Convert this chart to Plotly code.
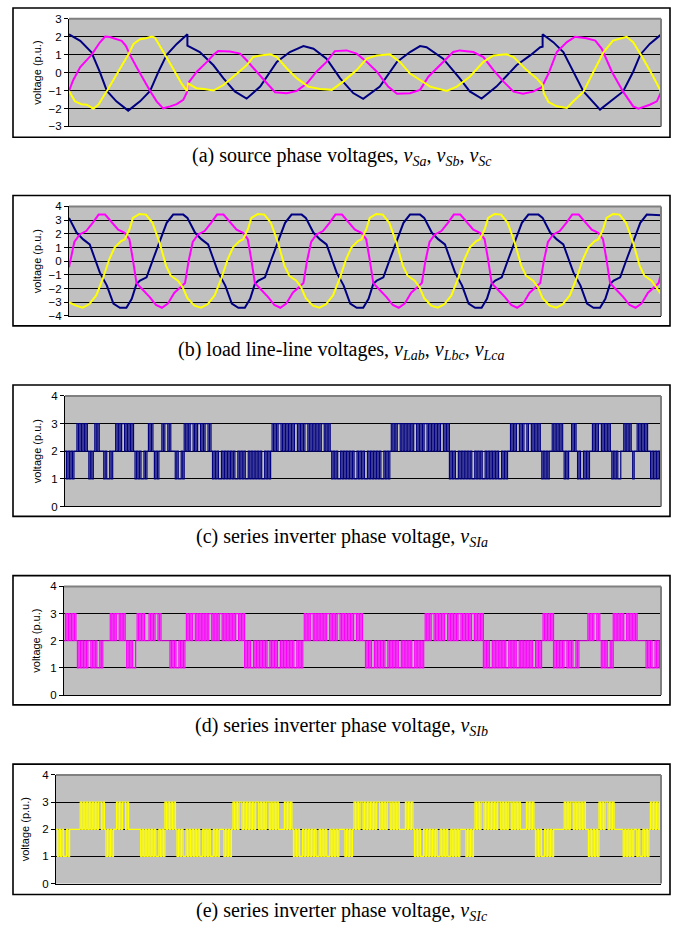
import plotly.graph_objects as go

# ------------------------------------------------------------------ data
# time axis: 0..100 (five fundamental cycles); values in p.u.
# (a) source phase voltages (sag between t=20 and t=80)
SRC_A = [(0,2.14),(1.9,1.77),(3.8,1.13),(5.2,0.04),(6.4,-1.02),(8.0,-1.6),(10.0,-2.12),(12.0,-1.6),
         (13.7,-1.02),(15.1,0.04),(16.5,0.99),(18.2,1.6),(20.0,2.14),(20.0,1.5),(22.1,1.15),(24.4,0.41),
         (26.1,-0.32),(28.0,-1.05),(30.0,-1.45),(32.3,-0.78),(35.1,0.6),(37.3,1.15),(39.6,1.48),(41.3,1.33),
         (43.5,0.78),(45.8,-0.32),(48.0,-1.14),(49.7,-1.46),(52.5,-0.78),(55.4,0.6),(57.6,1.15),(59.3,1.48),
         (60.4,1.42),(63.2,0.78),(66.0,-0.32),(67.7,-1.05),(69.7,-1.45),(72.2,-0.78),(75.6,0.41),(77.9,0.96),
         (79.6,1.42),(80.0,1.45),(80.0,2.14),(81.8,1.7),(83.5,1.15),(85.2,0.05),(86.9,-1.05),(89.7,-2.06),
         (91.9,-1.5),(93.6,-1.05),(95.3,0.05),(96.5,1.0),(98.1,1.6),(100,2.12)]
SRC_B = [(0,-1.02),(0.7,-0.42),(1.9,0.31),(3.8,0.99),(5.2,1.68),(6.1,2.01),(6.9,1.99),(8.0,1.86),(8.9,1.77),
         (9.6,1.5),(10.3,0.99),(11.4,0.31),(12.6,-0.42),(13.7,-1.02),(14.8,-1.6),(15.9,-1.99),(17.1,-1.88),
         (18.2,-1.76),(19.3,-1.52),(19.9,-1.1),(20.1,-0.6),(21.6,0.05),(23.3,0.6),(24.4,1.0),(25.2,1.2),
         (27.2,1.18),(28.9,1.06),(30.0,0.69),(31.7,0.05),(33.4,-0.6),(34.8,-1.09),(36.8,-1.15),(38.5,-1.02),
         (40.2,-0.6),(41.8,0.05),(43.5,0.6),(44.9,1.2),(46.9,1.24),(48.6,1.06),(50.3,0.6),(52.0,0.05),
         (53.9,-0.78),(55.4,-1.18),(57.6,-1.15),(59.3,-0.96),(60.7,-0.23),(62.7,0.41),(64.9,1.15),(66.0,1.24),
         (68.3,1.15),(70.0,0.87),(71.7,0.14),(73.4,-0.5),(75.1,-1.06),(76.7,-1.18),(78.4,-1.06),(79.8,-0.83),
         (80.0,-0.72),(81.0,-0.05),(82.4,1.15),(84.1,1.7),(85.5,2.0),(87.4,1.92),(88.9,1.79),(90.0,1.33),
         (91.7,0.05),(93.6,-1.06),(95.3,-1.88),(96.2,-2.01),(98.1,-1.79),(99.3,-1.6),(100,-1.09)]
SRC_C = [(0,-1.02),(1.0,-1.6),(2.1,-1.76),(3.0,-1.79),(4.1,-2.01),(4.95,-1.79),(6.4,-1.02),(8.0,-0.15),
         (10.0,0.99),(10.9,1.6),(12.0,1.86),(13.0,1.92),(14.0,2.01),(14.5,1.96),(16.3,0.99),(17.6,0.22),
         (19.0,-0.6),(19.9,-1.02),(20.1,-0.6),(21.5,-0.87),(22.8,-0.91),(24.4,-1.0),(26.1,-0.69),(27.8,-0.23),
         (30.0,0.41),(31.1,0.87),(32.3,0.96),(34.0,1.02),(35.1,0.87),(36.8,0.23),(38.5,-0.32),(40.4,-0.78),
         (42.4,-0.91),(44.4,-0.96),(46.3,-0.5),(48.6,0.14),(50.3,0.78),(52.0,0.96),(54.2,1.02),(55.9,0.6),
         (57.6,-0.05),(59.3,-0.41),(61.0,-0.78),(63.8,-1.02),(65.5,-0.78),(67.7,-0.23),(70.0,0.6),(71.7,0.96),
         (73.9,1.02),(75.1,0.87),(77.3,0.14),(79.0,-0.32),(80.0,-0.69),(80.2,-1.15),(81.0,-1.64),(82.4,-1.88),
         (84.1,-1.97),(85.2,-1.6),(86.9,-1.06),(88.6,0.05),(90.3,1.15),(91.9,1.79),(94.2,2.0),(95.3,1.7),
         (97.0,0.78),(98.7,-0.23),(100,-1.06)]

# (b) load line-line voltages
LL_AB_T = [0,1.3,2.4,3.5,4.4,5.2,6.4,7.5,8.6,9.7,10.6,11.4,12.0,13.1,14.2,15.4,16.5,17.6,19.3,
           20,21.3,22.4,23.5,24.4,25.2,26.4,27.5,28.6,29.7,30.6,31.4,32.0,33.1,34.2,35.4,36.5,37.6,39.3,
           40,41.3,42.4,43.5,44.4,45.2,46.4,47.5,48.6,49.7,50.6,51.4,52.0,53.1,54.2,55.4,56.5,57.6,59.3,
           60,61.3,62.4,63.5,64.4,65.2,66.4,67.5,68.6,69.7,70.6,71.4,72.0,73.1,74.2,75.4,76.5,77.6,79.3,
           80,81.3,82.4,83.5,84.4,85.2,86.4,87.5,88.6,89.7,90.6,91.4,92.0,93.1,94.2,95.4,96.5,97.6,99.3,100]
LL_AB_V = [3.16,2.07,1.59,1.23,0.14,-0.82,-1.78,-3.1,-3.4,-3.4,-2.75,-1.66,-1.42,-1.18,0.14,1.59,2.8,3.4,3.4,
           3.16,2.07,1.59,1.23,0.14,-0.82,-1.78,-3.1,-3.4,-3.4,-2.75,-1.66,-1.42,-1.18,0.14,1.59,2.8,3.4,3.4,
           3.16,2.07,1.59,1.23,0.14,-0.82,-1.78,-3.1,-3.4,-3.4,-2.75,-1.66,-1.42,-1.18,0.14,1.59,2.8,3.4,3.4,
           3.16,2.07,1.59,1.23,0.14,-0.82,-1.78,-3.1,-3.4,-3.4,-2.75,-1.66,-1.42,-1.18,0.14,1.59,2.8,3.4,3.4,
           3.16,2.07,1.59,1.23,0.14,-0.82,-1.78,-3.1,-3.4,-3.4,-2.75,-1.66,-1.42,-1.18,0.14,1.59,2.8,3.4,3.4,3.35]
LL_BC_T = [0,0.2,0.9,1.8,2.9,4.0,5.0,6.1,7.3,8.3,9.4,10.2,10.8,11.4,12.5,13.6,14.7,15.7,16.7,17.8,18.7,19.6,
           20.2,20.9,21.8,22.9,24.0,25.0,26.1,27.3,28.3,29.4,30.2,30.8,31.4,32.5,33.6,34.7,35.7,36.7,37.8,38.7,39.6,
           40.2,40.9,41.8,42.9,44.0,45.0,46.1,47.3,48.3,49.4,50.2,50.8,51.4,52.5,53.6,54.7,55.7,56.7,57.8,58.7,59.6,
           60.2,60.9,61.8,62.9,64.0,65.0,66.1,67.3,68.3,69.4,70.2,70.8,71.4,72.5,73.6,74.7,75.7,76.7,77.8,78.7,79.6,
           80.2,80.9,81.8,82.9,84.0,85.0,86.1,87.3,88.3,89.4,90.2,90.8,91.4,92.5,93.6,94.7,95.7,96.7,97.8,98.7,99.6,100]
LL_BC_V = [-0.45,0.0,1.4,1.95,2.2,2.8,3.4,3.4,2.8,2.3,2.07,1.6,0.1,-1.6,-2.1,-2.6,-3.2,-3.4,-3.1,-2.3,-1.95,-1.6,
           0.0,1.4,1.95,2.2,2.8,3.4,3.4,2.8,2.3,2.07,1.6,0.1,-1.6,-2.1,-2.6,-3.2,-3.4,-3.1,-2.3,-1.95,-1.6,
           0.0,1.4,1.95,2.2,2.8,3.4,3.4,2.8,2.3,2.07,1.6,0.1,-1.6,-2.1,-2.6,-3.2,-3.4,-3.1,-2.3,-1.95,-1.6,
           0.0,1.4,1.95,2.2,2.8,3.4,3.4,2.8,2.3,2.07,1.6,0.1,-1.6,-2.1,-2.6,-3.2,-3.4,-3.1,-2.3,-1.95,-1.6,
           0.0,1.4,1.95,2.2,2.8,3.4,3.4,2.8,2.3,2.07,1.6,0.1,-1.6,-2.1,-2.6,-3.2,-3.4,-3.1,-2.3,-1.95,-1.6,-0.9]
LL_CA_T = [0,1.2,2.3,3.4,4.6,5.7,6.8,7.7,8.8,9.4,10.2,10.8,11.9,13.0,14.1,15.3,16.4,17.2,18.4,19.2,
           20,21.2,22.3,23.4,24.6,25.7,26.8,27.7,28.8,29.4,30.2,30.8,31.9,33.0,34.1,35.3,36.4,37.2,38.4,39.2,
           40,41.2,42.3,43.4,44.6,45.7,46.8,47.7,48.8,49.4,50.2,50.8,51.9,53.0,54.1,55.3,56.4,57.2,58.4,59.2,
           60,61.2,62.3,63.4,64.6,65.7,66.8,67.7,68.8,69.4,70.2,70.8,71.9,73.0,74.1,75.3,76.4,77.2,78.4,79.2,
           80,81.2,82.3,83.4,84.6,85.7,86.8,87.7,88.8,89.4,90.2,90.8,91.9,93.0,94.1,95.3,96.4,97.2,98.4,99.2,100]
LL_CA_V = [-3.0,-3.25,-3.4,-3.15,-2.5,-1.3,0.14,0.99,1.47,1.59,2.31,3.16,3.45,3.4,2.8,1.35,-0.34,-1.06,-1.42,-1.9,
           -2.7,-3.25,-3.4,-3.15,-2.5,-1.3,0.14,0.99,1.47,1.59,2.31,3.16,3.45,3.4,2.8,1.35,-0.34,-1.06,-1.42,-1.9,
           -2.7,-3.25,-3.4,-3.15,-2.5,-1.3,0.14,0.99,1.47,1.59,2.31,3.16,3.45,3.4,2.8,1.35,-0.34,-1.06,-1.42,-1.9,
           -2.7,-3.25,-3.4,-3.15,-2.5,-1.3,0.14,0.99,1.47,1.59,2.31,3.16,3.45,3.4,2.8,1.35,-0.34,-1.06,-1.42,-1.9,
           -2.7,-3.25,-3.4,-3.15,-2.5,-1.3,0.14,0.99,1.47,1.59,2.31,3.16,3.45,3.4,2.8,1.35,-0.34,-1.06,-1.42,-1.9,-2.4]

# (c)-(e) series inverter phase voltages: level of every sample (401 samples over t=0..100)
PWM_SIA = ["212121","22","3232323","2","1212","3232","22","1211212","2","323233232323","2","12121121","2",
           "3232","1212","2","3233232","22","121121",
           "3232332323323233232",
           "1212112121","2121211212","1211212121","2121121212",
           "3232332323","2323233232","3233232323","2323323232",
           "1212112121","2121211212","1211212121","2121121212",
           "3232332323","2323233232","3233232323","232332323",
           "1212112121","2121211212","1211212121","2121121212","2",
           "3232332323","3233232323","2",
           "121212","2","3232323","2","1212","2","3232","12112121","22","323233232323","2","1212112","2",
           "32323","212","2","32323232","2","12121212"]
PWM_SIB = ["2","32323232","1212121","22","12121121","22222","3232332323","21212112","323232","22","323233232",
           "22222","12121121212",
           "3232332323","2323233232","3233232323","232332323",
           "1212112121","2121211212","1211212121","2121121212",
           "3232332323","2323233232","3233232323","2323323232",
           "2121211212","1212112121","2121121212","1211212121",
           "2323233232","3232332323","2323323232","3233232323",
           "1212112121","2121211212","1211212121","2121121212",
           "3232323","1212121","22","12121121","222222","323233232","12121121","3232323","22","32323232",
           "22222","12121121212"]
PWM_SIC = ["212121121","2222222","3232323","2","32323323","2","121212","2","323233232","2222222","1212121","2",
           "12112121","3232323","2",
           "1212112121","2121211212","12112121",
           "222","121212",
           "3232332323","2323233232","3233232323",
           "2222","323232",
           "1212112121","2121211212","1211212121","2",
           "222","121212",
           "3232332323","2323233232","3233232323","2",
           "222","323232",
           "1212112121","2121211212","1211212121","2",
           "222","121212",
           "3232332323","2323233232","3233232323","2",
           "222","323232",
           "121211212121","2222222","323233232","323232","2","1212121","3232332323","222222","1212121","22",
           "12112121","2","32323232"]

CAPTIONS = [
    "(a) source phase voltages, <i>v</i><sub><i>Sa</i></sub>, <i>v</i><sub><i>Sb</i></sub>, <i>v</i><sub><i>Sc</i></sub>",
    "(b) load line-line voltages, <i>v</i><sub><i>Lab</i></sub>, <i>v</i><sub><i>Lbc</i></sub>, <i>v</i><sub><i>Lca</i></sub>",
    "(c) series inverter phase voltage, <i>v</i><sub><i>SIa</i></sub>",
    "(d) series inverter phase voltage, <i>v</i><sub><i>SIb</i></sub>",
    "(e) series inverter phase voltage, <i>v</i><sub><i>SIc</i></sub>",
]
Y_TITLE = "voltage (p.u.)"

# ------------------------------------------------------------------ figure
W, H = 675, 934
NAVY, MAGENTA, YELLOW = "#000080", "#FF00FF", "#FFFF00"

def pwm_series(segments):
    levels = [int(c) for c in "".join(segments)]
    step = 100.0 / (len(levels) - 1)
    return [i * step for i in range(len(levels))], levels

def unzip(pts):
    return [p[0] for p in pts], [p[1] for p in pts]

series = [
    [(unzip(SRC_A), NAVY, 2, "linear"), (unzip(SRC_B), MAGENTA, 2, "linear"), (unzip(SRC_C), YELLOW, 2, "linear")],
    [((LL_AB_T, LL_AB_V), NAVY, 2, "linear"), ((LL_BC_T, LL_BC_V), MAGENTA, 2, "linear"), ((LL_CA_T, LL_CA_V), YELLOW, 2, "linear")],
    [(pwm_series(PWM_SIA), NAVY, 1.2, "hv")],
    [(pwm_series(PWM_SIB), MAGENTA, 1.2, "hv")],
    [(pwm_series(PWM_SIC), YELLOW, 1.2, "hv")],
]

# layout geometry in pixels: plot area (x0, x1, y0, y1), outer box (x0, x1, y0, y1)
panels = [
    dict(plot=(69, 661, 13, 122), box=(13, 670, 2, 133), yr=(-3, 3), cap_y=152, tx=37),
    dict(plot=(69, 661, 203, 314), box=(13, 670, 192, 324), yr=(-4, 4), cap_y=349, tx=37),
    dict(plot=(65, 661, 395, 507), box=(13, 670, 384, 517), yr=(0, 4), cap_y=538, tx=37),
    dict(plot=(64, 661, 588, 698), box=(13, 670, 577, 708), yr=(0, 4), cap_y=730, tx=36),
    dict(plot=(56, 661, 779, 889), box=(13, 670, 768, 900), yr=(0, 4), cap_y=917, tx=25),
]

fig = go.Figure()
shapes, annotations = [], []
tick_font = dict(family="Liberation Sans, Arial, sans-serif", size=11.5, color="black")
title_font = dict(family="Liberation Sans, Arial, sans-serif", size=11, color="black")

for i, p in enumerate(panels):
    n = "" if i == 0 else str(i + 1)
    x0, x1, y0, y1 = p["plot"]
    for (xs, ys), col, lw, shape in series[i]:
        fig.add_trace(go.Scatter(x=xs, y=ys, mode="lines", line=dict(color=col, width=lw, shape=shape),
                                 xaxis="x" + n, yaxis="y" + n, hoverinfo="skip", showlegend=False))
    lo, hi = p["yr"]
    fig.layout["xaxis" + n] = dict(domain=[x0 / W, x1 / W], range=[0, 100], anchor="y" + n,
                                   showticklabels=False, showgrid=False, zeroline=False, ticks="",
                                   showline=True, linecolor="black", linewidth=1, fixedrange=True)
    fig.layout["yaxis" + n] = dict(domain=[1 - y1 / H, 1 - y0 / H], range=[lo, hi], anchor="x" + n,
                                   tickvals=list(range(lo, hi + 1)), showgrid=True, gridcolor="black",
                                   gridwidth=1, zeroline=False, showline=True, linecolor="black",
                                   linewidth=1, ticks="outside", ticklen=4, tickcolor="black",
                                   tickfont=tick_font, fixedrange=True)
    # grey plot-area frame (top and right)
    shapes.append(dict(type="line", xref="x" + n + " domain", yref="y" + n + " domain", x0=0, x1=1, y0=1, y1=1,
                       line=dict(color="#808080", width=2), layer="above"))
    shapes.append(dict(type="line", xref="x" + n + " domain", yref="y" + n + " domain", x0=1, x1=1, y0=0, y1=1,
                       line=dict(color="#808080", width=2), layer="above"))
    # outer chart box
    bx0, bx1, by0, by1 = p["box"]
    shapes.append(dict(type="rect", xref="paper", yref="paper", x0=bx0 / W, x1=bx1 / W,
                       y0=1 - by1 / H, y1=1 - by0 / H, line=dict(color="black", width=1.6),
                       fillcolor="rgba(0,0,0,0)", layer="above"))
    annotations.append(dict(text=Y_TITLE, textangle=-90, xref="paper", yref="paper",
                            x=p["tx"] / W, y=1 - (y0 + y1) / 2 / H, xanchor="center", yanchor="middle",
                            showarrow=False, font=title_font))
    annotations.append(dict(text=CAPTIONS[i], xref="paper", yref="paper", x=341.5 / W, y=1 - p["cap_y"] / H,
                            xanchor="center", yanchor="middle", showarrow=False,
                            font=dict(family="Liberation Serif, Times New Roman, serif", size=20, color="black")))

fig.update_layout(width=W, height=H, margin=dict(l=0, r=0, t=0, b=0), autosize=False,
                  paper_bgcolor="white", plot_bgcolor="#C0C0C0", showlegend=False,
                  shapes=shapes, annotations=annotations)

fig.write_html("out.html", config={"displayModeBar": False},
               post_script="document.body.style.margin='0';document.body.style.overflow='hidden';")
